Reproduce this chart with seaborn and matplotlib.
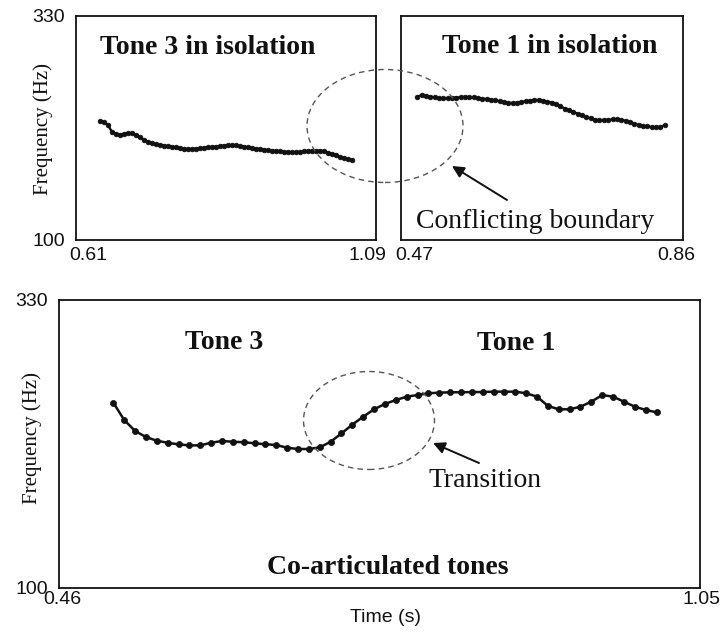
import numpy as np
import pandas as pd
import matplotlib
matplotlib.use("Agg")
import matplotlib.pyplot as plt
import matplotlib.transforms as mtransforms
from matplotlib.patches import Ellipse, FancyArrowPatch
import seaborn as sns

# F0 tracks in Hz, one value per analysis frame
tone3_iso_hz = [222.5, 221.0, 218.0, 211.0, 209.0, 208.0, 209.0, 209.5, 209.5, 207.5,
                205.5, 203.0, 201.0, 199.3, 198.5, 197.5, 197.0, 196.5, 195.5, 195.0,
                194.3, 193.8, 193.4, 193.3, 193.8, 194.2, 194.6, 195.0, 195.5, 196.0,
                196.5, 197.0, 197.3, 197.5, 197.2, 196.5, 195.8, 195.0, 194.4, 193.9,
                193.3, 192.8, 192.3, 191.8, 191.5, 191.1, 190.7, 190.3, 190.0, 190.2,
                190.6, 191.0, 191.4, 191.7, 191.8, 191.7, 191.0, 189.8, 188.6, 187.0,
                185.3, 183.8, 182.8, 182.1]
tone1_iso_hz = [247.1, 248.8, 248.3, 247.3, 246.5, 245.8, 245.5, 245.6, 246.0, 246.3,
                246.5, 246.6, 246.6, 246.4, 245.8, 245.2, 244.6, 244.0, 243.3, 242.5,
                241.7, 241.0, 240.5, 240.8, 241.6, 242.5, 243.2, 243.7, 243.8, 243.2,
                242.2, 241.1, 239.5, 237.3, 235.0, 233.0, 231.4, 229.7, 228.0, 226.4,
                224.8, 223.5, 223.0, 223.2, 223.5, 223.8, 224.0, 223.6, 222.4, 221.0,
                219.6, 218.4, 217.4, 216.6, 216.0, 215.7, 216.2, 217.8]
coartic_hz = [248.0, 234.2, 225.4, 220.6, 217.6, 216.0, 214.7, 213.9, 213.9, 216.0,
              217.4, 216.8, 216.4, 215.6, 214.8, 214.2, 212.0, 211.0, 211.0, 212.3,
              216.8, 223.4, 230.5, 236.8, 242.7, 247.0, 250.1, 252.8, 254.1, 255.5,
              256.0, 256.3, 256.3, 256.5, 256.5, 256.8, 256.8, 256.8, 255.5, 252.8,
              245.4, 242.7, 242.7, 244.8, 248.8, 254.1, 252.8, 248.8, 244.8, 242.2,
              240.3]

# frame timing in seconds: first frame and hop size
tone3_iso_t0, tone3_iso_hop = 0.6484, 0.0064
tone1_iso_t0, tone1_iso_hop = 0.4925, 0.0060
coartic_t0, coartic_hop = 0.510, 0.010

freq_lim = [100, 330]
tone3_iso_xlim = [0.61, 1.09]
tone1_iso_xlim = [0.47, 0.86]
coartic_xlim = [0.46, 1.05]


def track(t0, hop, hz):
    return pd.DataFrame({"time": t0 + hop * np.arange(len(hz)), "f0": hz})


sns.set_style("white")
plt.rcParams["font.family"] = ["Liberation Sans", "DejaVu Sans"]
SERIF = ["Liberation Serif", "DejaVu Serif"]

W, H = 724, 635
fig = plt.figure(figsize=(W / 100, H / 100), dpi=100)


def rect(x0, y0, x1, y1):
    return [x0 / W, 1 - y1 / H, (x1 - x0) / W, (y1 - y0) / H]


def fpt(px, py):
    return px / W, 1 - py / H


ax1 = fig.add_axes(rect(76, 16, 376, 240))
ax2 = fig.add_axes(rect(401, 16, 683, 240))
ax3 = fig.add_axes(rect(59, 300, 700, 588))

panels = [
    (ax1, track(tone3_iso_t0, tone3_iso_hop, tone3_iso_hz), tone3_iso_xlim, 3.4, 1.7),
    (ax2, track(tone1_iso_t0, tone1_iso_hop, tone1_iso_hz), tone1_iso_xlim, 3.4, 1.7),
    (ax3, track(coartic_t0, coartic_hop, coartic_hz), coartic_xlim, 4.4, 1.8),
]

for ax, df, xlim, ms, lw in panels:
    sns.lineplot(data=df, x="time", y="f0", ax=ax, color="#111111",
                 linewidth=lw, marker="o", markersize=ms,
                 markeredgecolor="#111111", markerfacecolor="#111111",
                 markeredgewidth=0.5)
    ax.set_xlim(xlim)
    ax.set_ylim(freq_lim)
    ax.set_xticks(xlim)
    ax.set_xticklabels([f"{v:.2f}" for v in xlim])
    ax.set_yticks(freq_lim)
    ax.set_yticklabels([str(v) for v in freq_lim])
    ax.tick_params(length=0, labelsize=14, colors="#111111")
    ax.set_xlabel("")
    ax.set_ylabel("")
    for s in ax.spines.values():
        s.set_color("#111111")
        s.set_linewidth(1.3)

ax2.set_yticklabels(["", ""])
ax1.tick_params(axis="x", pad=5)
ax2.tick_params(axis="x", pad=5)
ax3.tick_params(axis="x", pad=2.5)
for ax in (ax1, ax3):
    ax.tick_params(axis="y", pad=8)


def shift_xlabels(ax, offsets_px):
    for lab, dx in zip(ax.get_xticklabels(), offsets_px):
        lab.set_transform(lab.get_transform() +
                          mtransforms.ScaledTranslation(dx / 100, 0, fig.dpi_scale_trans))


shift_xlabels(ax1, [12, -9])
shift_xlabels(ax2, [13, -7])
shift_xlabels(ax3, [3, 2])

# axis titles
ax1.set_ylabel("Frequency (Hz)", family=SERIF, fontsize=15, color="#111111")
ax1.yaxis.set_label_coords((53 - 76) / 300, (240 - 129) / 224)
ax3.set_ylabel("Frequency (Hz)", family=SERIF, fontsize=15, color="#111111")
ax3.yaxis.set_label_coords((42 - 59) / 641, (588 - 438) / 288)
ax3.set_xlabel("Time (s)", fontsize=14, color="#111111")
ax3.xaxis.set_label_coords((385 - 59) / 641, (588 - 609) / 288)

# panel captions
bold = dict(family=SERIF, fontsize=20, fontweight="bold", color="#111111",
            va="baseline", ha="left")
plain = dict(family=SERIF, fontsize=20, color="#111111", va="baseline", ha="left")
fig.text(*fpt(100, 54), "Tone 3 in isolation", **bold)
fig.text(*fpt(442, 53), "Tone 1 in isolation", **bold)
fig.text(*fpt(185, 349), "Tone 3", **bold)
fig.text(*fpt(477, 350), "Tone 1", **bold)
fig.text(*fpt(267, 574), "Co-articulated tones", **bold)
fig.text(*fpt(416, 228), "Conflicting boundary", **plain)
fig.text(*fpt(428, 487), "Transition", **plain)

# dashed circles around the boundary / transition region
for cx, cy, w, h in [(385, 126, 156, 113), (369, 420.5, 131, 98)]:
    e = Ellipse(fpt(cx, cy), w / W, h / H, transform=fig.transFigure,
                fill=False, edgecolor="#555555", linewidth=1.0,
                linestyle=(0, (4, 3)), zorder=10)
    fig.add_artist(e)

# arrows pointing at the circles
for (tx, ty), (hx, hy) in [((507, 200), (452, 166)), ((479, 463), (433, 443))]:
    arr = FancyArrowPatch(fpt(tx, ty), fpt(hx, hy), transform=fig.transFigure,
                          arrowstyle="-|>,head_length=7,head_width=3.5",
                          color="#111111", linewidth=1.4, mutation_scale=1,
                          shrinkA=0, shrinkB=0, zorder=10)
    fig.add_artist(arr)

fig.savefig("out.png", dpi=100)
